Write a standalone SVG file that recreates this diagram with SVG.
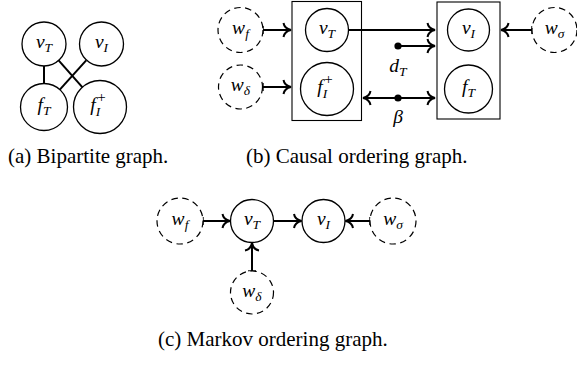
<svg xmlns="http://www.w3.org/2000/svg" width="577" height="365" viewBox="0 0 577 365">
<style>
.m{font-family:"Liberation Serif","DejaVu Serif","Times New Roman",Times,serif;font-style:italic;font-size:19.5px;fill:#000}
.s{font-size:13.5px}
.p{font-size:15px;font-style:normal}
.cap{font-family:"Liberation Serif","DejaVu Serif","Times New Roman",Times,serif;font-size:21px;fill:#000}
.node{fill:#fff;stroke:#000;stroke-width:1.3}
.dash{fill:#fff;stroke:#000;stroke-width:1.2;stroke-dasharray:6.5 4.5}
.box{fill:none;stroke:#000;stroke-width:1.1}
.edge{fill:none;stroke:#000;stroke-width:2}
.arr{marker-end:url(#to)}
.tail{marker-start:url(#tick)}
</style>
<defs>
<marker id="to" markerUnits="userSpaceOnUse" markerWidth="20" markerHeight="20" viewBox="-10 -10 20 20" refX="0" refY="0" orient="auto-start-reverse" overflow="visible">
<path d="M-7.5,-7 C-6.8,-3 -3.5,-0.7 0,0 C-3.5,0.7 -6.8,3 -7.5,7" fill="none" stroke="#000" stroke-width="2"/>
</marker>
<marker id="tick" markerUnits="userSpaceOnUse" markerWidth="20" markerHeight="20" viewBox="-10 -10 20 20" refX="0" refY="0" orient="auto" overflow="visible">
<path d="M0,-4 L0,4" fill="none" stroke="#000" stroke-width="1.4"/>
</marker>
</defs>

<!-- (a) Bipartite graph -->
<g id="a-edges">
<line class="edge" x1="44" y1="66" x2="44" y2="84"/>
<line class="edge" x1="58.6" y1="60.4" x2="82.7" y2="87.6"/>
<line class="edge" x1="86.2" y1="60.3" x2="59.8" y2="89.6"/>
</g>
<g id="a-vT"><circle class="node" cx="44" cy="44" r="22"/><text class="m" font-family="Liberation Serif, serif" x="44" y="48" text-anchor="middle">v<tspan class="s" dy="4">T</tspan></text></g>
<g id="a-vI"><circle class="node" cx="101.5" cy="44" r="22"/><text class="m" font-family="Liberation Serif, serif" x="101.5" y="48" text-anchor="middle">v<tspan class="s" dy="4">I</tspan></text></g>
<g id="a-fT"><circle class="node" cx="44" cy="107" r="23.5"/><text class="m" font-family="Liberation Serif, serif" x="44" y="111" text-anchor="middle">f<tspan class="s" dy="4">T</tspan></text></g>
<g id="a-fI"><circle class="node" cx="100" cy="107" r="26.5"/><text class="m" font-family="Liberation Serif, serif" x="98" y="111" text-anchor="middle">f<tspan class="s" dy="5">I</tspan><tspan class="p" dx="-3" dy="-14">+</tspan></text></g>
<text class="cap" font-family="Liberation Serif, serif" x="8" y="163">(a) Bipartite graph.</text>

<!-- (b) Causal ordering graph -->
<g id="b-edges">
<line class="edge arr tail" x1="263" y1="30" x2="291" y2="30"/>
<line class="edge arr tail" x1="263" y1="87" x2="291" y2="87"/>
<line class="edge arr tail" x1="532" y1="30" x2="501" y2="30"/>
<line class="edge arr" x1="348" y1="30" x2="435" y2="30"/>
<line class="edge arr" x1="398" y1="46" x2="435" y2="46"/>
<line class="edge arr" style="marker-start:url(#to)" x1="363" y1="98" x2="435" y2="98"/>
<circle cx="398" cy="46" r="3.6" fill="#000"/>
<circle cx="398" cy="98" r="3.6" fill="#000"/>
<text class="m" font-family="Liberation Serif, serif" x="398" y="72" text-anchor="middle">d<tspan class="s" dy="4">T</tspan></text>
<text class="m" font-family="Liberation Serif, serif" x="398" y="123" text-anchor="middle">β</text>
</g>
<g id="b-box-left"><rect class="box" x="292" y="1.5" width="69.5" height="119"/></g>
<g id="b-box-right"><rect class="box" x="437" y="2" width="63" height="117"/></g>
<g id="b-wf"><circle class="dash" cx="240.5" cy="30" r="22.5"/><text class="m" font-family="Liberation Serif, serif" x="240.5" y="34" text-anchor="middle">w<tspan class="s" dy="4">f</tspan></text></g>
<g id="b-wd"><circle class="dash" cx="240.5" cy="87" r="22"/><text class="m" font-family="Liberation Serif, serif" x="240.5" y="91" text-anchor="middle">w<tspan class="s" dy="4">δ</tspan></text></g>
<g id="b-vT"><circle class="node" cx="327" cy="30" r="21.5"/><text class="m" font-family="Liberation Serif, serif" x="327" y="34" text-anchor="middle">v<tspan class="s" dy="4">T</tspan></text></g>
<g id="b-fI"><circle class="node" cx="327" cy="89" r="26.5"/><text class="m" font-family="Liberation Serif, serif" x="325" y="93" text-anchor="middle">f<tspan class="s" dy="5">I</tspan><tspan class="p" dx="-3" dy="-14">+</tspan></text></g>
<g id="b-vI"><circle class="node" cx="468.5" cy="30" r="21"/><text class="m" font-family="Liberation Serif, serif" x="468.5" y="34" text-anchor="middle">v<tspan class="s" dy="4">I</tspan></text></g>
<g id="b-fT"><circle class="node" cx="468.5" cy="89" r="24"/><text class="m" font-family="Liberation Serif, serif" x="468.5" y="93" text-anchor="middle">f<tspan class="s" dy="4">T</tspan></text></g>
<g id="b-ws"><circle class="dash" cx="554.5" cy="30" r="22.5"/><text class="m" font-family="Liberation Serif, serif" x="554.5" y="34" text-anchor="middle">w<tspan class="s" dy="4">σ</tspan></text></g>
<text class="cap" font-family="Liberation Serif, serif" x="246" y="163">(b) Causal ordering graph.</text>

<!-- (c) Markov ordering graph -->
<g id="c-edges">
<line class="edge arr tail" x1="203" y1="221" x2="230" y2="221"/>
<line class="edge arr" x1="273.5" y1="221" x2="301.5" y2="221"/>
<line class="edge arr tail" x1="370" y1="221" x2="345.5" y2="221"/>
<line class="edge arr tail" x1="252" y1="271" x2="252" y2="243"/>
</g>
<g id="c-wf"><circle class="dash" cx="180" cy="221" r="23"/><text class="m" font-family="Liberation Serif, serif" x="180" y="225" text-anchor="middle">w<tspan class="s" dy="4">f</tspan></text></g>
<g id="c-vT"><circle class="node" cx="252" cy="221" r="21.5"/><text class="m" font-family="Liberation Serif, serif" x="252" y="225" text-anchor="middle">v<tspan class="s" dy="4">T</tspan></text></g>
<g id="c-vI"><circle class="node" cx="323.5" cy="221" r="21.5"/><text class="m" font-family="Liberation Serif, serif" x="323.5" y="225" text-anchor="middle">v<tspan class="s" dy="4">I</tspan></text></g>
<g id="c-ws"><circle class="dash" cx="393" cy="221" r="23"/><text class="m" font-family="Liberation Serif, serif" x="393" y="225" text-anchor="middle">w<tspan class="s" dy="4">σ</tspan></text></g>
<g id="c-wd"><circle class="dash" cx="252" cy="292.5" r="21.5"/><text class="m" font-family="Liberation Serif, serif" x="252" y="296.5" text-anchor="middle">w<tspan class="s" dy="4">δ</tspan></text></g>
<text class="cap" font-family="Liberation Serif, serif" x="158" y="346">(c) Markov ordering graph.</text>
</svg>
